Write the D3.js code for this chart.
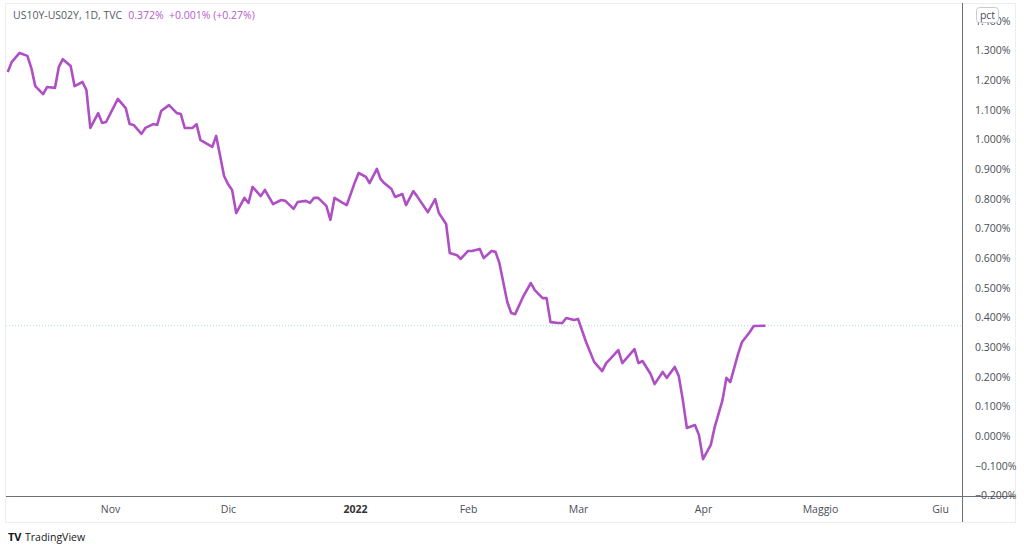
<!DOCTYPE html>
<html><head><meta charset="utf-8">
<script src="https://cdn.jsdelivr.net/npm/d3@7"></script>
<style>body{margin:0;background:#fff;font-family:"Open Sans","Noto Sans",sans-serif}</style>
</head><body><svg id="c" width="1024" height="546"></svg>
<script>
const dates = ["2021-10-06","2021-10-07","2021-10-09","2021-10-11","2021-10-12","2021-10-13","2021-10-15","2021-10-16","2021-10-18","2021-10-19","2021-10-20","2021-10-22","2021-10-23","2021-10-25","2021-10-26","2021-10-27","2021-10-29","2021-10-30","2021-10-31",
"2021-11-03","2021-11-05","2021-11-06","2021-11-07","2021-11-09","2021-11-10","2021-11-12","2021-11-13","2021-11-14","2021-11-16","2021-11-18","2021-11-19","2021-11-20","2021-11-22","2021-11-23","2021-11-24","2021-11-27","2021-11-28","2021-11-30",
"2021-12-01","2021-12-02","2021-12-03","2021-12-05","2021-12-06","2021-12-07","2021-12-09","2021-12-10","2021-12-12","2021-12-14","2021-12-15","2021-12-17","2021-12-18","2021-12-20","2021-12-21","2021-12-22","2021-12-23","2021-12-25","2021-12-26","2021-12-27","2021-12-29","2021-12-30",
"2022-01-01","2022-01-02","2022-01-04","2022-01-05","2022-01-07","2022-01-08","2022-01-09","2022-01-11","2022-01-12","2022-01-14","2022-01-15","2022-01-17","2022-01-18","2022-01-21","2022-01-23","2022-01-24","2022-01-26","2022-01-27","2022-01-29","2022-01-30",
"2022-02-01","2022-02-02","2022-02-04","2022-02-05","2022-02-07","2022-02-08","2022-02-09","2022-02-11","2022-02-12","2022-02-13","2022-02-15","2022-02-17","2022-02-18","2022-02-20","2022-02-21","2022-02-22","2022-02-24","2022-02-25","2022-02-26","2022-02-28",
"2022-03-01","2022-03-03","2022-03-05","2022-03-07","2022-03-08","2022-03-09","2022-03-11","2022-03-12","2022-03-15","2022-03-16","2022-03-17","2022-03-19","2022-03-20","2022-03-22","2022-03-23","2022-03-25","2022-03-26","2022-03-27","2022-03-28","2022-03-30","2022-03-31",
"2022-04-01","2022-04-03","2022-04-04","2022-04-06","2022-04-07","2022-04-08","2022-04-10","2022-04-11","2022-04-13","2022-04-14","2022-04-17"];
const spread = [1.228,1.261,1.292,1.282,1.241,1.180,1.153,1.177,1.174,1.245,1.271,1.248,1.180,1.194,1.167,1.039,1.089,1.056,1.059,
1.137,1.106,1.052,1.049,1.019,1.039,1.052,1.049,1.096,1.116,1.089,1.086,1.039,1.039,1.052,0.998,0.975,1.012,0.877,
0.850,0.830,0.752,0.803,0.786,0.840,0.809,0.830,0.782,0.796,0.793,0.766,0.789,0.793,0.786,0.803,0.803,0.776,0.729,0.803,0.786,0.779,
0.857,0.887,0.874,0.853,0.901,0.867,0.853,0.833,0.806,0.816,0.779,0.826,0.809,0.755,0.799,0.752,0.715,0.617,0.610,0.597,
0.624,0.624,0.631,0.600,0.624,0.621,0.583,0.452,0.415,0.411,0.469,0.516,0.492,0.465,0.465,0.384,0.381,0.381,0.398,0.391,
0.395,0.317,0.250,0.219,0.246,0.260,0.290,0.246,0.293,0.246,0.253,0.209,0.175,0.216,0.196,0.233,0.202,0.121,0.027,0.037,0.003,
-0.078,-0.030,0.030,0.121,0.196,0.182,0.277,0.317,0.351,0.371,0.372];
const monthTicks = ["2021-11-01","2021-12-01","2022-01-01","2022-02-01","2022-03-01","2022-04-01","2022-05-01","2022-06-01"];
const monthLabels = ["Nov","Dic","2022","Feb","Mar","Apr","Maggio","Giu"];
const yTicks = [-0.2,-0.1,0,0.1,0.2,0.3,0.4,0.5,0.6,0.7,0.8,0.9,1.0,1.1,1.2,1.3,1.4];
const title = "US10Y-US02Y, 1D, TVC", lastLabel = "0.372%  +0.001% (+0.27%)";

const P = d3.timeParse("%Y-%m-%d");
const svg = d3.select("#c");
const L=6, R=962, T=8, B=496, col="#ae4fc4";
const x = d3.scaleTime().domain(monthTicks.map(P)).range([110,228,355,468,578,703,820,940]).clamp(false);
const y = d3.scaleLinear().domain([-0.2,1.4]).range([495.3,20.9]);
// frame
svg.append("rect").attr("x",5.5).attr("y",3.5).attr("width",1010).attr("height",519).attr("fill","none").attr("stroke","#eceef2");
svg.append("line").attr("x1",R+0.5).attr("x2",R+0.5).attr("y1",3).attr("y2",522).attr("stroke","#6b6f78");
svg.append("line").attr("x1",L).attr("x2",1015).attr("y1",B+0.5).attr("y2",B+0.5).attr("stroke","#6b6f78");
// y axis
const ya = svg.append("g").attr("transform",`translate(${R},0)`).call(d3.axisRight(y).tickValues(yTicks).tickSize(0).tickPadding(13).tickFormat(d=>d3.format(".3f")(d).replace("−","−")+"%"));
ya.select(".domain").remove();
ya.selectAll("text").attr("fill","#4a4e57").attr("font-size","10.5px").attr("font-family","Open Sans, sans-serif");
// x axis
const xa = svg.append("g").attr("transform",`translate(0,${B})`).call(d3.axisBottom(x).tickValues(monthTicks.map(P)).tickSize(0).tickPadding(10).tickFormat((d,i)=>monthLabels[i]));
xa.select(".domain").remove();
xa.selectAll("text").attr("fill","#4a4e57").attr("font-size","10.5px").attr("font-family","Open Sans, sans-serif").attr("font-weight",(d,i)=>monthLabels[i]==="2022"?"bold":null).attr("fill",(d,i)=>monthLabels[i]==="2022"?"#333":"#4a4e57");
// last value line
svg.append("line").attr("x1",L).attr("x2",R).attr("y1",y(spread[spread.length-1])).attr("y2",y(spread[spread.length-1])).attr("stroke","#a8e0dc").attr("stroke-dasharray","1,2");
// series
const data = dates.map((d,i)=>({d:P(d),v:spread[i]}));
svg.append("path").datum(data).attr("fill","none").attr("stroke",col).attr("stroke-width",2.6).attr("stroke-linejoin","round")
 .attr("d",d3.line().x(d=>x(d.d)).y(d=>y(d.v)));
// pct box
svg.append("rect").attr("x",976.5).attr("y",7.5).attr("width",22).attr("height",15).attr("rx",3).attr("fill","#fff").attr("stroke","#c8cbd2");
svg.append("text").attr("x",987.5).attr("y",19).attr("text-anchor","middle").attr("font-size","10.5px").attr("fill","#4a4e57").text("pct");
// title
const t = svg.append("text").attr("x",13).attr("y",19).attr("font-size","10.5px");
t.append("tspan").attr("fill","#555a63").text(title);
t.append("tspan").attr("fill","#b35cc9").attr("dx",6).attr("xml:space","preserve").text(lastLabel);
// logo
svg.append("text").attr("x",8).attr("y",541).attr("font-size","11px").attr("font-weight","bold").attr("fill","#131722").text("TV");
svg.append("text").attr("x",25).attr("y",541).attr("font-size","10.5px").attr("fill","#131722").text("TradingView");
</script></body></html>
